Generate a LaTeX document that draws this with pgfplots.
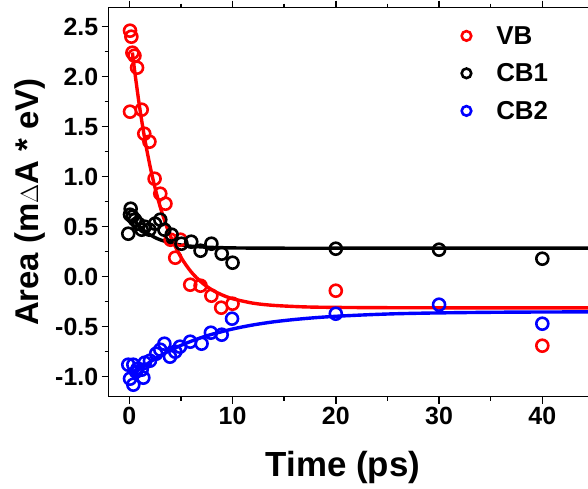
\documentclass[border=0pt]{standalone}
\usepackage{pgfplots}
\pgfplotsset{compat=1.18}
\usepackage{fontspec}
\setmainfont{Liberation Sans}

\begin{document}
\begin{tikzpicture}
\begin{axis}[
  name=ax,
  width=485.3bp, height=389bp, scale only axis,
  xmin=-2, xmax=45, ymin=-1.2, ymax=2.69,
  xtick={0,10,20,30,40}, minor x tick num=1,
  ytick={-1,-0.5,0,0.5,1,1.5,2,2.5}, minor y tick num=1,
  tick align=outside,
  major tick length=7bp, minor tick length=4bp,
  every tick/.style={line width=1.5bp, black},
  axis line style={line width=1.5bp},
  /pgf/number format/assume math mode=true,
  tick label style={font=\fontsize{25}{28}\selectfont\bfseries},
  yticklabel style={/pgf/number format/.cd, fixed, fixed zerofill, precision=1},
  clip=false,
  legend style={at={(rel axis cs:0.727,0.958)}, anchor=north west,
    draw=none, fill=none, font=\fontsize{26}{30}\selectfont\bfseries,
    row sep=14bp, inner sep=0pt,
    /tikz/every odd column/.append style={column sep=23bp}},
  legend cell align=left,
  legend image code/.code={\draw[#1,mark size=4.8bp] plot coordinates {(0.2cm,0cm)};},
]

% VB
\addplot[red, no marks, line width=3.4bp, smooth, forget plot] coordinates {
  (0.3,2.242)(0.5,2.072)(1,1.695)(1.5,1.377)(2,1.110)(2.5,0.885)(3,0.696)
  (3.5,0.537)(4,0.402)(5,0.195)(6,0.047)(7,-0.057)(8,-0.131)(9,-0.183)
  (10,-0.220)(12,-0.265)(14,-0.287)(17,-0.302)(20,-0.307)(25,-0.310)
  (30,-0.311)(35,-0.312)(40,-0.312)(45,-0.312)};
\addplot[red, only marks, mark=o, mark size=6bp, line width=2.6bp] coordinates {
  (0.07,1.65)(0.07,2.46)(0.2,2.40)(0.3,2.24)(0.5,2.21)(0.75,2.09)
  (1.2,1.67)(1.45,1.43)(1.95,1.35)(2.45,0.98)(3,0.83)(3.5,0.73)
  (4,0.37)(4.45,0.19)(4.95,0.37)(5.9,-0.08)(6.9,-0.09)(7.95,-0.19)
  (8.9,-0.31)(10,-0.27)(20,-0.14)(40,-0.69)};
\addlegendentry{VB}

% CB1
\addplot[black, no marks, line width=3.4bp, smooth, forget plot] coordinates {
  (0.3,0.588)(0.5,0.561)(1,0.502)(1.5,0.456)(2,0.420)(2.5,0.391)(3,0.369)
  (4,0.337)(5,0.317)(6,0.305)(7,0.2975)(8,0.293)(10,0.288)(12,0.286)
  (15,0.285)(20,0.285)(30,0.285)(45,0.285)};
\addplot[black, only marks, mark=o, mark size=6bp, line width=2.6bp] coordinates {
  (-0.1,0.43)(0.13,0.68)(0.07,0.62)(0.3,0.60)(0.55,0.57)(0.87,0.53)
  (1.2,0.47)(1.5,0.50)(1.95,0.47)(2.5,0.53)(3,0.57)(3.4,0.47)
  (4.1,0.42)(5.05,0.33)(6,0.35)(6.9,0.26)(7.95,0.33)(8.95,0.23)
  (10,0.14)(20,0.28)(30,0.27)(40,0.18)};
\addlegendentry{CB1}

% CB2
\addplot[blue, no marks, line width=3.4bp, smooth, forget plot] coordinates {
  (0.3,-0.980)(0.5,-0.964)(1,-0.924)(2,-0.853)(3,-0.790)(4,-0.735)
  (5,-0.687)(6,-0.645)(7,-0.608)(8,-0.576)(10,-0.523)(12,-0.482)
  (14,-0.451)(16,-0.428)(18,-0.410)(20,-0.396)(23,-0.381)(26,-0.370)
  (30,-0.362)(35,-0.356)(40,-0.353)(45,-0.352)};
\addplot[blue, only marks, mark=o, mark size=6bp, line width=2.6bp] coordinates {
  (-0.1,-0.88)(0.39,-0.88)(0.07,-1.02)(0.39,-1.08)(0.65,-0.95)(0.8,-0.92)
  (1.2,-0.93)(1.36,-1.01)(1.5,-0.86)(2.0,-0.84)(2.6,-0.77)(3.0,-0.73)
  (3.4,-0.67)(3.94,-0.80)(4.45,-0.75)(4.9,-0.70)(5.9,-0.65)(7.0,-0.67)
  (7.9,-0.56)(8.95,-0.58)(9.95,-0.42)(20,-0.37)(30,-0.28)(40,-0.47)};
\addlegendentry{CB2}

\coordinate (bl) at (rel axis cs:0,0);
\coordinate (tr) at (rel axis cs:1,1);
\node[rotate=90, font=\fontsize{33}{36}\selectfont\bfseries]
  at ([xshift=-79bp]rel axis cs:0,0.5) {Area (m$\Delta$A * eV)};
\node[font=\fontsize{35}{38}\selectfont\bfseries]
  at ([yshift=-71bp]axis cs:20.7,-1.2) {Time (ps)};
\end{axis}
\pgfresetboundingbox
\useasboundingbox ([xshift=-108.65bp,yshift=-92.3bp]bl) rectangle ([xshift=-5.95bp,yshift=7.7bp]tr);
\end{tikzpicture}
\end{document}
